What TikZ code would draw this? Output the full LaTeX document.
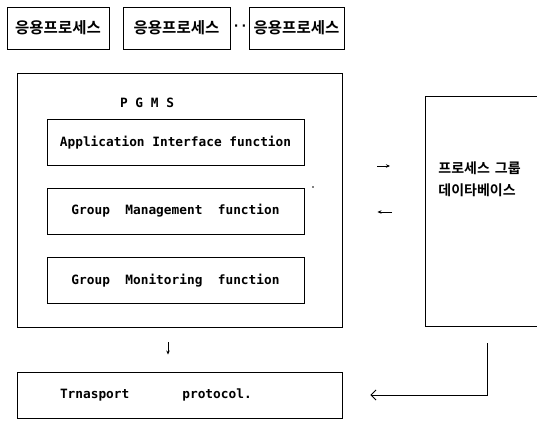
\documentclass[tikz,border=0pt]{standalone}
\usepackage{fontspec}
\setmonofont{DejaVu Sans Mono}
\newfontfamily\kofont{Noto Sans CJK KR}[BoldFont={Noto Sans CJK KR Bold}]
\usetikzlibrary{arrows.meta}

\begin{document}
\begin{tikzpicture}[x=1pt, y=-1pt, line width=.9pt,
    tt/.style={font=\ttfamily\bfseries\fontsize{12.8}{14}\selectfont},
    ko/.style={font=\kofont\bfseries\fontsize{#1}{#1}\selectfont},
    procbox/.style={draw, ko=15.5, minimum height=42pt, inner sep=0pt},
    funcbox/.style={draw, tt, minimum width=257pt, minimum height=46pt, inner sep=0pt},
    small arrow/.style={line width=.7pt, -{Stealth[length=4pt, width=3.5pt]}},
  ]
    \useasboundingbox (0,0) rectangle (537,420);
    \clip (0,0) rectangle (537,420);
    % application processes
    \foreach \l/\r [count=\i] in {7/109, 123/230, 249/344} {
        \node[procbox, minimum width={\r-\l}] (proc\i) at ({(\l+\r)/2},28) {응용프로세스};
    }
    \node[tt, inner sep=0pt] (dots) at (240,28) {··};
    % PGMS
    \node[draw, minimum width=325pt, minimum height=254pt, inner sep=0pt] (pgms) at (179.5,200) {};
    \node[tt] (pgmslabel) at (147,103) {P G M S};
    \foreach \y/\t [count=\i] in {
        142.5/Application Interface function,
        211/Group~~Management~~function,
        280.5/Group~~Monitoring~~function%
    } {
        \node[funcbox] (func\i) at (175.5,\y) {\t};
    }
    \fill (313,187) circle (.9pt);
    % transport
    \node[draw, tt, minimum width=325pt, minimum height=46pt, text width=239pt,
      inner xsep=43pt, inner ysep=0pt, align=left] (trans) at (179.5,395)
      {Trnasport\hspace{53pt}protocol.};
    % group database (runs off the right edge)
    \node[draw, minimum width=200pt, minimum height=230pt, inner sep=0pt, anchor=west]
      (db) at (425,211) {};
    \node[ko=14, anchor=west, align=left, inner sep=0pt] (dbtext) at (438,179)
      {프로세스\hspace{5pt}그룹\\[8pt]데이타베이스};
    \coordinate (dbout) at (487,343);
    \draw[small arrow, shorten <=35pt, shorten >=35pt] ([yshift=34pt]pgms.east) -- ([yshift=45pt]db.west);
    \draw[small arrow, shorten <=33pt, shorten >=35pt] ([yshift=-1pt]db.west) -- ([yshift=-12pt]pgms.east);
    \draw[small arrow, shorten <=15pt, shorten >=17pt] ([xshift=-11.5pt]pgms.south) -- ([xshift=-11.5pt]trans.north);
    \draw[-{Straight Barb[length=5pt, width=10pt]}, shorten >=28pt] (dbout) |- (trans);
\end{tikzpicture}
\end{document}
